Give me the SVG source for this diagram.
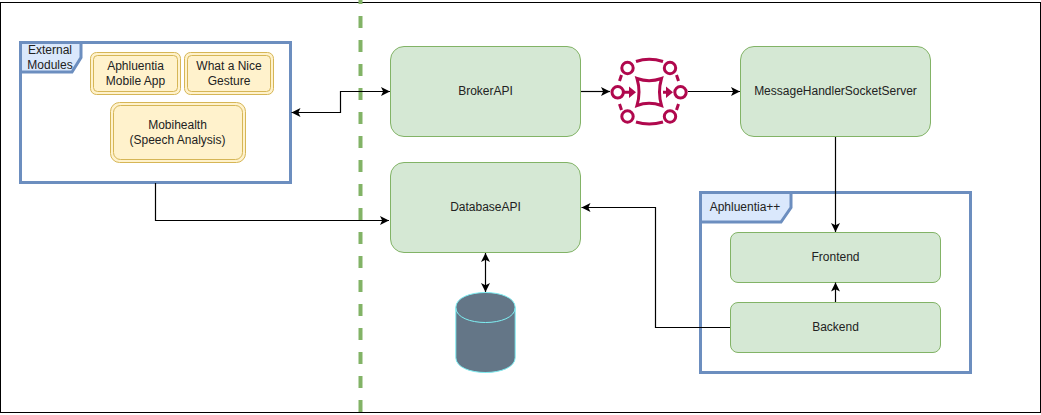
<svg xmlns="http://www.w3.org/2000/svg" width="1041" height="415" viewBox="0 0 1041 415">
<style>
text{font-family:"Liberation Sans",Arial,sans-serif;font-size:12px;fill:#222;text-anchor:middle}
.g{fill:#d5e8d4;stroke:#82b366;stroke-width:1}
.y{fill:#fff2cc;stroke:#d6b656;stroke-width:1}
.f{fill:#fff;stroke:#6c8ebf;stroke-width:3}
.t{fill:#dae8fc;stroke:#6c8ebf;stroke-width:3}
.c{fill:none;stroke:#000;stroke-width:1.2}
.i{fill:none;stroke:#b0084d;stroke-width:3}
</style>
<defs>
<marker id="a" markerUnits="userSpaceOnUse" markerWidth="12" markerHeight="12" refX="9" refY="6" orient="auto-start-reverse"><path d="M0 1.500 L9 6 L0 10.500 L2.200 6Z" fill="#000"/></marker>
</defs>
<rect id="frame" x="0.5" y="2.5" width="1040" height="410" fill="#fff" stroke="#000" stroke-width="1"/>
<line id="divider" x1="360.5" y1="-8" x2="360.5" y2="412" stroke="#82b366" stroke-width="4" stroke-dasharray="12 12"/>
<g id="external-modules">
<rect class="f" x="20.5" y="42.5" width="270" height="140"/>
<path class="t" d="M20.5 42.5H81V57.500L72 72H20.500Z"/>
<text x="50" y="54">External</text><text x="50" y="69">Modules</text>
</g>
<g id="aphluentia-mobile">
<rect class="y" x="90.500" y="52.500" width="90" height="42" rx="6"/><rect class="y" x="93.500" y="55.500" width="84" height="36" rx="4"/>
<text x="135.500" y="70">Aphluentia</text><text x="135.500" y="85">Mobile App</text>
</g>
<g id="nice-gesture">
<rect class="y" x="184.500" y="52.500" width="89" height="42" rx="6"/><rect class="y" x="187.500" y="55.500" width="83" height="36" rx="4"/>
<text x="229" y="70">What a Nice</text><text x="229" y="85">Gesture</text>
</g>
<g id="mobihealth">
<rect class="y" x="110.500" y="102.500" width="135" height="60" rx="9"/><rect class="y" x="113.500" y="105.500" width="129" height="54" rx="7"/>
<text x="177.500" y="129">Mobihealth</text><text x="177.500" y="144">(Speech Analysis)</text>
</g>
<g id="broker-api"><rect class="g" x="390.500" y="46.500" width="190" height="90" rx="13.500"/><text x="485.500" y="95">BrokerAPI</text></g>
<g id="database-api"><rect class="g" x="390.500" y="162.500" width="190" height="90" rx="13.500"/><text x="485.500" y="211">DatabaseAPI</text></g>
<g id="message-handler"><rect class="g" x="740.500" y="46.500" width="190" height="90" rx="13.500"/><text x="835.500" y="95">MessageHandlerSocketServer</text></g>
<g id="aphluentia-plus">
<rect class="f" x="700.500" y="192.500" width="270" height="180"/>
<path class="t" d="M700.500 192.500H791V207.500L781 222H700.500Z"/>
<text x="745" y="211">Aphluentia++</text>
</g>
<g id="frontend"><rect class="g" x="730.500" y="232.500" width="210" height="50" rx="7.500"/><text x="835.500" y="261">Frontend</text></g>
<g id="backend"><rect class="g" x="730.500" y="302.500" width="210" height="50" rx="7.500"/><text x="835.500" y="331">Backend</text></g>
<g id="database">
<path d="M455.800 307.500C455.800 287.500 515.200 287.500 515.200 307.500V357.500C515.200 377.500 455.800 377.500 455.800 357.500Z" fill="#647687" stroke="#7ff0f4" stroke-width="1"/>
<path d="M455.800 307.500C455.800 327.500 515.200 327.500 515.200 307.500" fill="none" stroke="#7ff0f4" stroke-width="1"/>
</g>
<g id="queue-icon">
<circle class="i" cx="627.500" cy="68" r="5.700"/><circle class="i" cx="670" cy="68" r="5.700"/>
<circle class="i" cx="627.500" cy="116.500" r="5.700"/><circle class="i" cx="670" cy="116.500" r="5.700"/>
<circle class="i" cx="617.700" cy="92.300" r="5.700"/><circle class="i" cx="680.500" cy="92.300" r="5.700"/>
<path class="i" d="M636 61.500Q649 57 663 61.500M636 122Q649 126 663 122M621.500 75L619.500 81M676.500 75L678.500 81M621.500 110L619.500 104M676.500 110L678.500 104"/>
<path class="i" d="M637 78.500Q649 83 661.500 78.500Q657.500 92 661.500 105.500Q649 101 637 105.500Q641 92 637 78.500Z"/>
<path class="i" d="M623.500 92.300H631M663 92.300H668"/>
<path d="M629 86.500L636 92.300L629 98ZM666 86.500L673 92.300L666 98Z" fill="#b0084d"/>
</g>
<g id="connectors">
<path class="c" d="M291.500 112.500H340.500V91.500H390" marker-start="url(#a)" marker-end="url(#a)"/>
<path class="c" d="M155.500 183V220.500H389" marker-end="url(#a)"/>
<path class="c" d="M581 91.500H610" marker-end="url(#a)"/>
<path class="c" d="M688 91.500H740" marker-end="url(#a)"/>
<path class="c" d="M835.500 137V232" marker-end="url(#a)"/>
<path class="c" d="M835.500 302V282.500" marker-end="url(#a)"/>
<path class="c" d="M730 327.500H655.500V207.500H581.500" marker-end="url(#a)"/>
<path class="c" d="M485.500 253V292" marker-start="url(#a)" marker-end="url(#a)"/>
</g>
</svg>
